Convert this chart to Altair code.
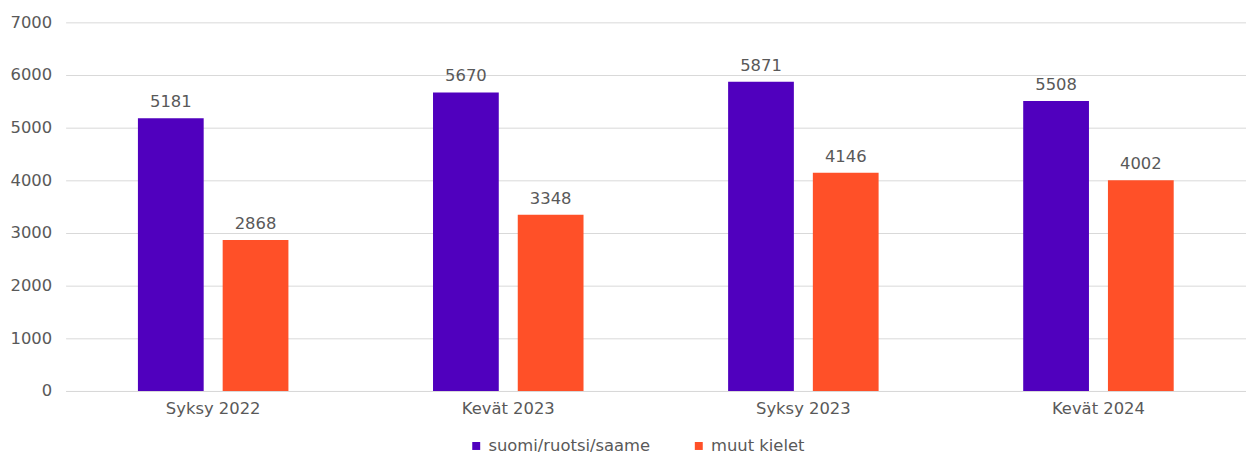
import altair as alt
import pandas as pd

categories = ["Syksy 2022", "Kevät 2023", "Syksy 2023", "Kevät 2024"]
series_names = ["suomi/ruotsi/saame", "muut kielet"]
series_a = [5181, 5670, 5871, 5508]
series_b = [2868, 3348, 4146, 4002]
colors = ["#5000BE", "#FF5028"]
y_ticks = [0, 1000, 2000, 3000, 4000, 5000, 6000, 7000]

rows = []
for c, a, b in zip(categories, series_a, series_b):
    rows.append({"kausi": c, "sarja": series_names[0], "arvo": a})
    rows.append({"kausi": c, "sarja": series_names[1], "arvo": b})
df = pd.DataFrame(rows)

FONT = "DejaVu Sans"
GREY = "#595959"

x = alt.X("kausi:N", sort=categories, title=None,
          scale=alt.Scale(paddingInner=0.49, paddingOuter=0.245),
          axis=alt.Axis(labelAngle=0, labelFontSize=16.5, labelColor=GREY, labelFont=FONT,
                        ticks=False, domainColor="#d9d9d9", labelPadding=10))
xo = alt.XOffset("sarja:N", sort=series_names,
                 scale=alt.Scale(paddingInner=0.224, paddingOuter=0))
y = alt.Y("arvo:Q", title=None,
          scale=alt.Scale(domain=[0, 7000], nice=False),
          axis=alt.Axis(values=y_ticks, format="d", labelFontSize=16.5, labelColor=GREY,
                        labelFont=FONT, ticks=False, domain=False, gridColor="#d9d9d9",
                        labelPadding=14))
color = alt.Color("sarja:N", sort=series_names, title=None,
                  scale=alt.Scale(domain=series_names, range=colors),
                  legend=alt.Legend(orient="none", legendX=405, legendY=418, direction="horizontal",
                                    symbolType="square", symbolSize=64, labelFontSize=16.5,
                                    labelColor=GREY, labelFont=FONT, columnPadding=40,
                                    labelOffset=4, symbolStrokeWidth=0, labelLimit=400))

bars = alt.Chart(df).mark_bar().encode(x=x, xOffset=xo, y=y, color=color)
labels = alt.Chart(df).mark_text(baseline="bottom", dy=-8, fontSize=16.5, font=FONT, color=GREY).encode(
    x=x, xOffset=xo, y=y, text="arvo:Q")

chart = (bars + labels).properties(
    width=1188, height=371,
    autosize=alt.AutoSizeParams(type="none"),
    padding={"left": 58, "top": 13, "right": 0, "bottom": 63},
).configure_view(stroke=None)

chart.save("out.html", embed_options={"renderer": "svg", "actions": False})
